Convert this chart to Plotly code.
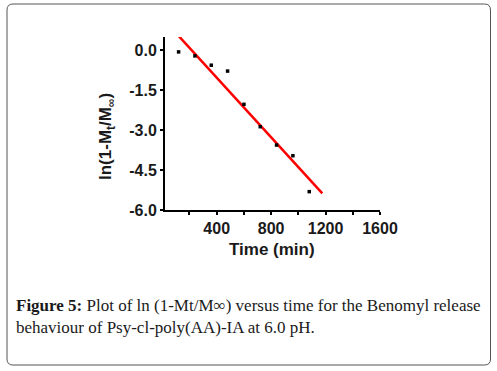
import numpy as np
import plotly.graph_objects as go

# ---- data ----
time_min = [120, 240, 360, 480, 600, 720, 840, 960, 1080]
ln_values = [-0.06, -0.21, -0.56, -0.78, -2.03, -2.87, -3.56, -3.96, -5.31]
fit_span = [120, 1176]
x_tick_vals = [400, 800, 1200, 1600]
x_tick_text = ["400", "800", "1200", "1600"]
x_minor_vals = [200, 600, 1000, 1400]
y_tick_vals = [0.0, -1.5, -3.0, -4.5, -6.0]
y_tick_text = ["0.0", "-1.5", "-3.0", "-4.5", "-6.0"]

slope, intercept = np.polyfit(time_min, ln_values, 1)
fit_x = np.array(fit_span, dtype=float)
fit_y = slope * fit_x + intercept

W, H = 497, 371
L, R, T, B = 165, 380, 37, 210


def px(x):
    return (x - L) / (R - L)


def py(y):
    return (B - y) / (B - T)


fig = go.Figure()
fig.add_trace(go.Scatter(x=fit_x, y=fit_y, mode="lines",
                         line=dict(color="#ff0000", width=2.5),
                         showlegend=False, hoverinfo="skip"))
fig.add_trace(go.Scatter(x=time_min, y=ln_values, mode="markers",
                         marker=dict(symbol="square", size=3.5, color="black"),
                         showlegend=False))

axis_font = dict(family="Liberation Sans, Arial", size=16, color="#1a1a1a", weight="bold")
title_font = dict(family="Liberation Sans, Arial", size=17, color="#1a1a1a", weight="bold")

fig.update_xaxes(range=[20, 1600], tickvals=x_tick_vals, ticktext=x_tick_text,
                 ticks="outside", ticklen=3, tickwidth=2, tickcolor="black",
                 minor=dict(tickmode="array", tickvals=x_minor_vals, ticks="outside",
                            ticklen=3, tickwidth=2, tickcolor="black", showgrid=False),
                 showline=True, linecolor="black", linewidth=2, automargin=False,
                 showgrid=False, zeroline=False, tickfont=axis_font)
fig.update_yaxes(range=[-6, 0.5], tickvals=y_tick_vals, ticktext=y_tick_text,
                 ticks="outside", ticklen=3, tickwidth=2, tickcolor="black",
                 showline=True, linecolor="black", linewidth=2, automargin=False,
                 showgrid=False, zeroline=False, tickfont=axis_font)

# axis titles
fig.add_annotation(text="Time (min)", xref="paper", yref="paper", x=px(272), y=py(250),
                   xanchor="center", yanchor="middle", showarrow=False, font=title_font)
fig.add_annotation(text="ln(1-M<sub>t</sub>/M<sub>∞</sub>)", xref="paper", yref="paper",
                   x=px(107), y=py(137), xanchor="center", yanchor="middle",
                   textangle=-90, showarrow=False, font=title_font)

# rounded border around the figure
bx0, by0, bx1, by1, r = 7, 4, 490.5, 365, 6
path = (f"M {px(bx0 + r)} {py(by0)} L {px(bx1 - r)} {py(by0)} "
        f"Q {px(bx1)} {py(by0)} {px(bx1)} {py(by0 + r)} "
        f"L {px(bx1)} {py(by1 - r)} Q {px(bx1)} {py(by1)} {px(bx1 - r)} {py(by1)} "
        f"L {px(bx0 + r)} {py(by1)} Q {px(bx0)} {py(by1)} {px(bx0)} {py(by1 - r)} "
        f"L {px(bx0)} {py(by0 + r)} Q {px(bx0)} {py(by0)} {px(bx0 + r)} {py(by0)} Z")
fig.add_shape(type="path", path=path, xref="paper", yref="paper",
              line=dict(color="#555555", width=1), layer="below")

cap_font = dict(family="Liberation Serif, Times New Roman", size=17, color="#1a1a1a")
fig.add_annotation(text="<b>Figure 5:</b> Plot of ln (1-Mt/M∞) versus time for the Benomyl release",
                   xref="paper", yref="paper", x=px(14), y=py(305),
                   xanchor="left", yanchor="middle", showarrow=False, font=cap_font)
fig.add_annotation(text="behaviour of Psy-cl-poly(AA)-IA at 6.0 pH.",
                   xref="paper", yref="paper", x=px(14), y=py(327),
                   xanchor="left", yanchor="middle", showarrow=False, font=cap_font)

fig.update_layout(width=W, height=H, margin=dict(l=L, r=W - R, t=T, b=H - B, autoexpand=False),
                  plot_bgcolor="white", paper_bgcolor="white")

fig.write_html("out.html", config={"displayModeBar": False, "staticPlot": True},
               post_script="document.body.style.margin='0';document.body.style.overflow='hidden';")
